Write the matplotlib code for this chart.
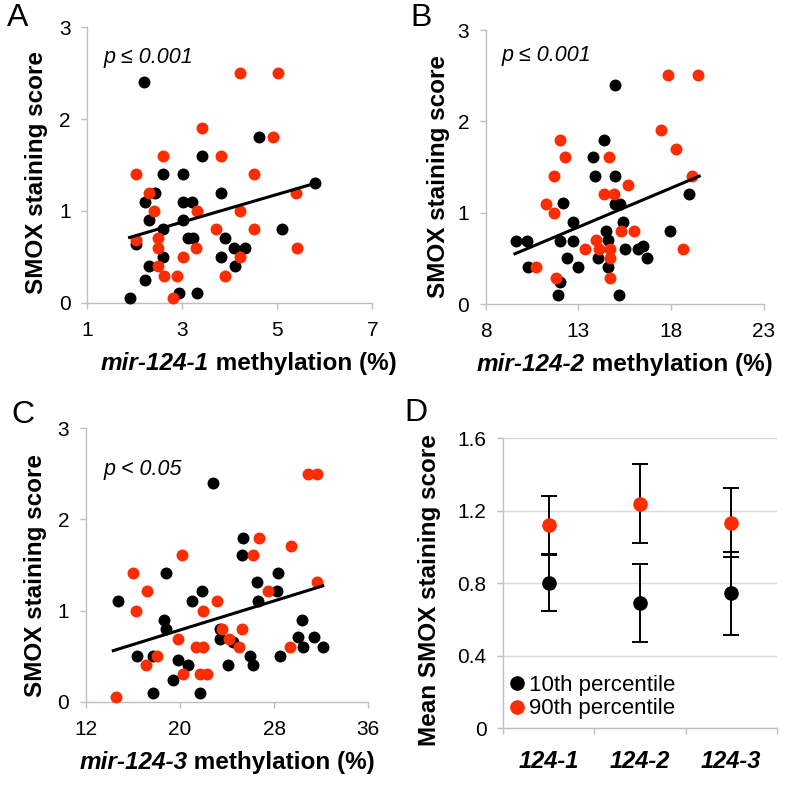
import matplotlib
matplotlib.use('Agg')
import matplotlib.pyplot as plt
import numpy as np
from matplotlib.offsetbox import TextArea, HPacker, AnnotationBbox

plt.rcParams['font.family'] = ['Liberation Sans', 'DejaVu Sans']

RED = '#fe2c02'
SPINE = '#bfbfbf'

# ---- panel A : mir-124-1
a_black_x = [2.20, 1.89, 2.21, 2.30, 2.02, 2.21, 2.42, 2.30, 2.60, 2.60, 2.60, 3.01, 3.01, 3.01, 3.20,
             3.11, 3.22, 3.41, 2.92, 3.30, 3.81, 3.90, 3.81, 4.09, 4.32, 4.11, 4.61, 5.10, 5.80]
a_black_y = [2.40, 0.05, 0.25, 0.40, 0.64, 1.10, 1.20, 0.90, 0.80, 0.50, 1.40, 1.40, 1.10, 0.90, 1.10,
             0.70, 0.70, 1.60, 0.11, 0.11, 1.20, 0.70, 0.50, 0.60, 0.60, 0.40, 1.80, 0.80, 1.30]
a_red_x = [2.02, 2.30, 2.41, 2.02, 2.49, 2.49, 2.49, 2.61, 2.60, 2.81, 2.89, 3.01, 3.29, 3.30, 3.41,
           3.71, 3.81, 3.90, 4.22, 4.22, 4.22, 4.50, 4.50, 4.90, 5.01, 5.40, 5.42]
a_red_y = [1.40, 1.20, 1.00, 0.68, 0.70, 0.60, 0.40, 0.29, 1.60, 0.05, 0.29, 0.50, 0.60, 1.00, 1.90,
           0.80, 1.60, 0.29, 2.50, 0.50, 1.00, 1.40, 0.80, 1.80, 2.50, 1.20, 0.60]
a_fit = (0.151, 0.425)
a_fit_x = (1.89, 5.80)

# ---- panel B : mir-124-2
b_black_x = [9.62, 10.21, 10.30, 11.91, 12.00, 12.00, 12.15, 12.40, 12.69, 12.69, 13.00, 13.80, 13.89,
             14.07, 14.37, 14.48, 14.61, 14.61, 14.97, 14.97, 14.97, 15.24, 15.38, 15.20, 15.50, 16.19,
             16.49, 16.71, 17.93, 18.97]
b_black_y = [0.69, 0.69, 0.41, 0.10, 0.24, 0.69, 1.11, 0.50, 0.90, 0.69, 0.41, 1.61, 1.40,
             0.50, 1.80, 0.80, 0.70, 0.41, 1.40, 2.40, 1.10, 1.10, 0.90, 0.10, 0.60, 0.60,
             0.64, 0.50, 0.80, 1.20]
b_red_x = [10.69, 11.25, 11.68, 11.68, 11.79, 12.00, 12.27, 13.35, 13.94, 14.12, 14.37, 14.64, 14.91,
           14.70, 14.70, 14.70, 15.31, 15.68, 15.99, 17.43, 17.84, 18.25, 18.61, 19.10, 19.45]
b_red_y = [0.40, 1.10, 1.40, 1.00, 0.29, 1.80, 1.61, 0.60, 0.70, 0.60, 1.20, 1.61, 1.20,
           0.60, 0.50, 0.29, 0.80, 1.30, 0.80, 1.90, 2.51, 1.70, 0.60, 1.40, 2.51]
b_fit = (0.0856, -0.270)
b_fit_x = (9.58, 19.51)

# ---- panel C : mir-124-3
c_black_x = [14.75, 16.31, 17.67, 17.73, 18.63, 18.80, 18.80, 19.43, 19.85, 20.70, 20.99, 21.84, 21.70,
             22.77, 23.40, 23.40, 24.11, 24.48, 25.24, 25.38, 25.95, 26.23, 26.52, 26.66, 28.22, 28.36,
             28.50, 30.06, 30.34, 30.43, 31.39, 32.13]
c_black_y = [1.11, 0.50, 0.50, 0.10, 0.90, 1.41, 0.80, 0.24, 0.46, 0.40, 1.11, 1.21, 0.10,
             2.40, 0.69, 0.80, 0.40, 0.65, 1.61, 1.80, 0.50, 0.40, 1.31, 1.11, 1.21, 1.41,
             0.50, 0.71, 0.90, 0.60, 0.71, 0.60]
c_red_x = [14.55, 16.03, 16.25, 17.22, 17.10, 18.07, 20.14, 19.85, 20.28, 21.36, 21.98, 21.92, 21.70,
           22.32, 23.17, 23.54, 24.19, 25.04, 25.24, 26.23, 26.74, 27.51, 29.35, 29.41, 30.91, 31.62, 31.62]
c_red_y = [0.05, 1.41, 1.00, 1.21, 0.40, 0.50, 1.61, 0.69, 0.30, 0.60, 0.60, 1.00, 0.30,
           0.30, 1.11, 0.80, 0.69, 0.60, 0.80, 1.61, 1.80, 1.21, 0.60, 1.71, 2.50, 2.50, 1.31]
c_fit = (0.0399, -0.011)
c_fit_x = (14.32, 32.13)

# ---- panel D : means
groups = ['124-1', '124-2', '124-3']
p10_mean = [0.80, 0.69, 0.745]
p10_err = [0.155, 0.217, 0.23]
p90_mean = [1.12, 1.24, 1.135]
p90_err = [0.16, 0.217, 0.193]


def style_axes(ax):
    for s in ['top', 'right']:
        ax.spines[s].set_visible(False)
    for s in ['left', 'bottom']:
        ax.spines[s].set_color(SPINE)
        ax.spines[s].set_linewidth(1.0)
    ax.tick_params(axis='both', direction='out', length=4, width=1, color=SPINE,
                   labelsize=15, labelcolor='black')
    ax.tick_params(axis='x', pad=9)
    ax.tick_params(axis='y', pad=8)


def mixed_xlabel(ax, gene, xpos):
    t1 = TextArea(gene, textprops=dict(fontsize=17.5, fontweight='bold', fontstyle='italic'))
    t2 = TextArea(' methylation (%)', textprops=dict(fontsize=17.5, fontweight='bold'))
    box = HPacker(children=[t1, t2], align='baseline', pad=0, sep=0)
    ab = AnnotationBbox(box, (xpos, -0.18), xycoords='axes fraction', box_alignment=(0.5, 1),
                        frameon=False, pad=0, annotation_clip=False)
    ax.add_artist(ab)


def scatter_panel(ax, bx, by, rx, ry, fit, fit_x, xlim, xticks, gene, xlab_x, ptext, ptext_pos, ylab_pos):
    ax.scatter(bx, by, s=74, color='black', linewidths=0, zorder=3, clip_on=False)
    ax.scatter(rx, ry, s=74, color=RED, linewidths=0, zorder=3, clip_on=False)
    xx = np.array(fit_x)
    ax.plot(xx, fit[0] * xx + fit[1], color='black', lw=2.2, zorder=4)
    ax.set_xlim(*xlim)
    ax.set_ylim(0, 3)
    ax.set_xticks(xticks)
    ax.set_yticks([0, 1, 2, 3])
    style_axes(ax)
    ax.set_ylabel('SMOX staining score', fontsize=17.5, fontweight='bold')
    ax.yaxis.set_label_coords(*ylab_pos)
    mixed_xlabel(ax, gene, xlab_x)
    ax.text(ptext_pos[0], ptext_pos[1], ptext, transform=ax.transAxes, fontsize=15.5,
            fontstyle='italic', ha='left', va='baseline')


fig = plt.figure(figsize=(7.86, 7.88), dpi=100)

axA = fig.add_axes([0.1111, 0.6159, 0.3626, 0.3495])
scatter_panel(axA, a_black_x, a_black_y, a_red_x, a_red_y, a_fit, a_fit_x, (1, 7), [1, 3, 5, 7],
              'mir-124-1', 0.565, 'p \u2264 0.001', (0.056, 0.87), (-0.138, 0.471))

axB = fig.add_axes([0.6179, 0.6142, 0.3541, 0.3477])
scatter_panel(axB, b_black_x, b_black_y, b_red_x, b_red_y, b_fit, b_fit_x, (8, 23), [8, 13, 18, 23],
              'mir-124-2', 0.5, 'p \u2264 0.001', (0.057, 0.888), (-0.128, 0.467))

axC = fig.add_axes([0.1094, 0.1095, 0.3592, 0.3470])
scatter_panel(axC, c_black_x, c_black_y, c_red_x, c_red_y, c_fit, c_fit_x, (12, 36), [12, 20, 28, 36],
              'mir-124-3', 0.5, 'p < 0.05', (0.061, 0.829), (-0.138, 0.463))

axD = fig.add_axes([0.6403, 0.0761, 0.3478, 0.3676])
pos = np.arange(len(groups)) + 0.5
axD.errorbar(pos, p10_mean, yerr=p10_err, fmt='o', color='black', ms=9.5, mec='black',
             ecolor='black', elinewidth=1.4, capsize=5.5, capthick=1.4, zorder=3,
             label='10th percentile')
axD.errorbar(pos, p90_mean, yerr=p90_err, fmt='o', color=RED, ms=9.5, mec=RED,
             ecolor='black', elinewidth=1.4, capsize=5.5, capthick=1.4, zorder=3,
             label='90th percentile')
axD.set_xlim(0, 3)
axD.set_ylim(0, 1.6)
axD.set_yticks([0, 0.4, 0.8, 1.2, 1.6])
axD.set_yticklabels(['0', '0.4', '0.8', '1.2', '1.6'])
axD.set_xticks([0, 1, 2, 3])
axD.set_xticklabels([])
axD.set_xticks(pos, minor=True)
axD.set_xticklabels(groups, minor=True, fontsize=17, fontweight='bold', fontstyle='italic')
axD.yaxis.grid(True, color='#d9d9d9', lw=1)
axD.set_axisbelow(True)
style_axes(axD)
axD.tick_params(axis='x', which='minor', length=0, pad=16)
axD.set_ylabel('Mean SMOX staining score', fontsize=17.5, fontweight='bold')
axD.yaxis.set_label_coords(-0.228, 0.476)
hs, ls = axD.get_legend_handles_labels()
hs = [h[0] for h in hs]
axD.legend(hs, ls, loc='lower left', bbox_to_anchor=(0.03, 0.03), frameon=False, fontsize=16,
           handlelength=0.5, handletextpad=0.3, labelspacing=0.1, borderpad=0, borderaxespad=0)

fig.text(0.009, 0.958, 'A', fontsize=23, ha='left', va='bottom')
fig.text(0.522, 0.958, 'B', fontsize=23, ha='left', va='bottom')
fig.text(0.015, 0.454, 'C', fontsize=23, ha='left', va='bottom')
fig.text(0.515, 0.457, 'D', fontsize=23, ha='left', va='bottom')

fig.savefig('out.png', dpi=100)
